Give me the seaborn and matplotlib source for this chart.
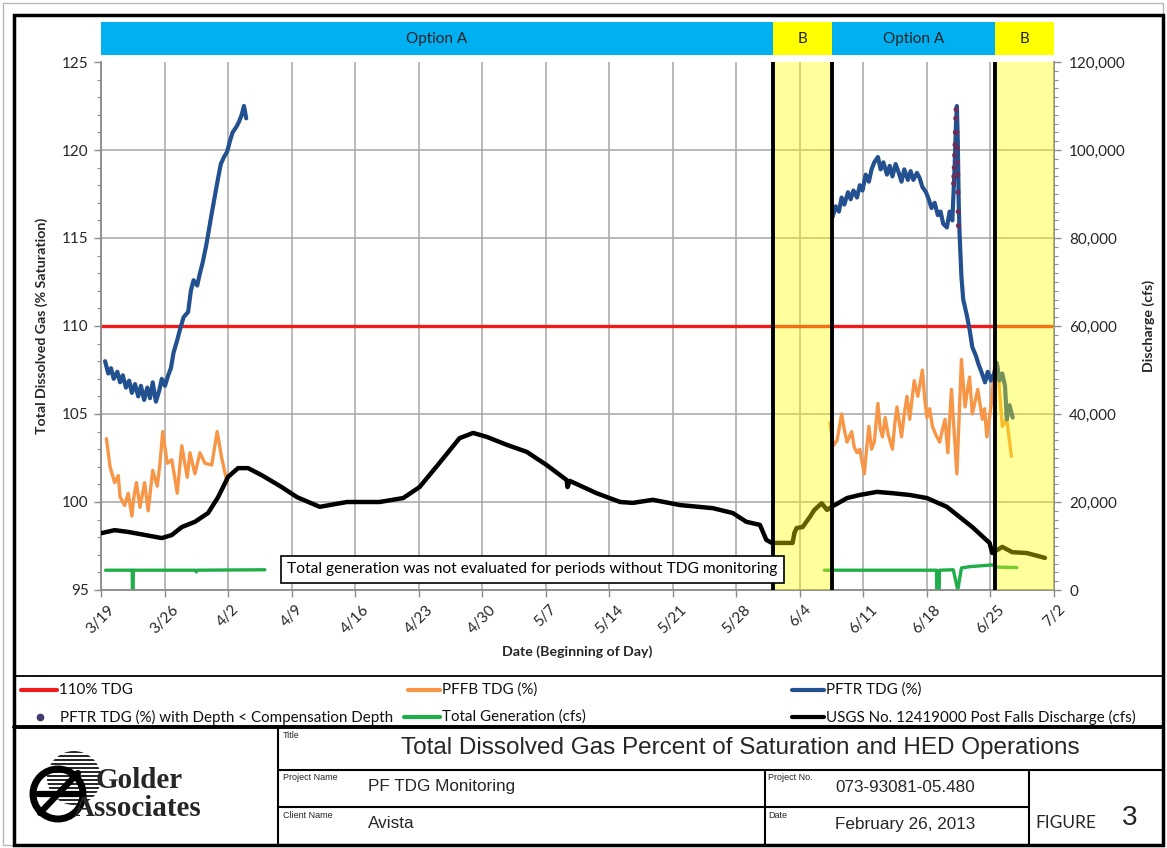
import numpy as np
import pandas as pd
import matplotlib
matplotlib.use('Agg')
import matplotlib.pyplot as plt
import seaborn as sns
from matplotlib.patches import Rectangle, Circle
from matplotlib.lines import Line2D
from matplotlib.ticker import MultipleLocator, FuncFormatter
import matplotlib.transforms as mtransforms

# ---------------- data (x = days since 3/19) ----------------
TICK_DAYS = [0, 7, 14, 21, 28, 35, 42, 49, 56, 63, 70, 77, 84, 91, 98, 105]
TICK_LABELS = ['3/19', '3/26', '4/2', '4/9', '4/16', '4/23', '4/30', '5/7',
               '5/14', '5/21', '5/28', '6/4', '6/11', '6/18', '6/25', '7/2']

TDG_LIMIT = 110

pftr1_day = [0.45, 0.8, 1.1, 1.4, 1.8, 2.1, 2.4, 2.75, 3.1, 3.4, 3.75, 4.1, 4.4, 4.75,
             5.1, 5.4, 5.7, 6.05, 6.4, 6.7, 7.05, 7.4, 7.7, 8.0, 8.4, 8.7, 9.1, 9.6,
             9.9, 10.2, 10.6, 10.9, 11.2, 11.6, 11.9, 12.2, 12.55, 12.9, 13.2, 13.55,
             13.9, 14.2, 14.5, 14.9, 15.2, 15.5, 15.75, 16.0]
pftr1_val = [108.0, 107.3, 107.6, 107.0, 107.4, 106.8, 107.2, 106.5, 106.9, 106.2, 106.7,
             106.0, 106.6, 105.8, 106.5, 105.9, 106.8, 105.7, 106.3, 107.0, 106.6, 107.2,
             107.6, 108.5, 109.2, 109.8, 110.5, 110.8, 112.0, 112.6, 112.3, 113.0, 113.6,
             114.6, 115.5, 116.4, 117.4, 118.4, 119.2, 119.6, 119.9, 120.5, 121.0, 121.3,
             121.6, 122.0, 122.5, 121.8]

pftr2_day = [80.6, 80.95, 81.3, 81.6, 81.9, 82.3, 82.6, 82.9, 83.3, 83.6, 83.9, 84.25,
             84.6, 84.9, 85.2, 85.6, 85.9, 86.2, 86.6, 86.9, 87.2, 87.55, 87.9, 88.2,
             88.5, 88.9, 89.2, 89.5, 89.9, 90.2, 90.5, 90.9, 91.2, 91.5, 91.85, 92.2,
             92.5, 92.8, 93.2, 93.5, 93.8, 94.05, 94.2, 94.3, 94.4, 94.5, 94.6, 94.8,
             95.0, 95.4, 95.7, 96.0, 96.4, 96.7, 97.0, 97.4, 97.7, 98.05, 98.4, 98.7,
             99.0, 99.3, 99.6, 99.8, 100.1, 100.45]
pftr2_val = [116.2, 116.8, 116.5, 117.3, 116.9, 117.6, 117.2, 117.7, 117.3, 118.0, 117.7,
             118.6, 118.2, 118.9, 119.3, 119.6, 118.9, 119.3, 118.6, 119.1, 118.5, 119.2,
             118.7, 118.2, 118.9, 118.3, 118.8, 118.3, 118.7, 118.4, 117.9, 117.6, 117.2,
             116.7, 117.0, 116.3, 116.5, 115.8, 115.6, 116.5, 116.0, 119.0, 121.5, 122.5,
             120.5, 117.0, 115.2, 112.8, 111.5, 110.6, 109.8, 108.8, 108.3, 107.8, 107.4,
             106.8, 107.4, 106.9, 107.3, 107.9, 106.9, 107.3, 106.6, 104.7, 105.5, 104.8]

shallow_day = [93.95, 93.98, 94.02, 94.06, 94.1, 94.14, 94.18, 94.22,
               94.3, 94.33, 94.36, 94.39, 94.42, 94.45, 94.48]
shallow_val = [118.1, 118.5, 119.0, 119.7, 120.3, 121.0, 121.8, 122.3,
               121.0, 120.1, 119.3, 118.6, 117.6, 116.5, 115.7]

pffb1_day = [0.6, 1.0, 1.5, 1.9, 2.1, 2.6, 3.0, 3.4, 3.6, 3.9, 4.3, 4.8, 5.2, 5.7, 6.2,
             6.5, 6.8, 7.3, 7.8, 8.4, 8.9, 9.5, 9.8, 10.35, 10.9, 11.45, 12.2, 12.8,
             13.3, 13.9]
pffb1_val = [103.6, 102.0, 101.1, 101.5, 100.3, 99.8, 100.5, 99.2, 100.2, 101.1, 99.7,
             101.1, 99.5, 101.8, 100.9, 102.2, 104.0, 102.2, 102.4, 100.5, 103.2, 101.4,
             102.8, 101.6, 102.8, 102.2, 102.1, 104.0, 102.5, 101.1]

pffb2_day = [80.3, 80.7, 81.1, 81.6, 81.9, 82.2, 82.7, 83.0, 83.3, 83.6, 84.1, 84.35,
             84.6, 84.9, 85.2, 85.6, 85.85, 86.1, 86.4, 86.7, 87.2, 87.45, 87.7, 88.2,
             88.5, 88.8, 89.1, 89.35, 89.6, 90.0, 90.5, 90.75, 91.0, 91.3, 91.6, 92.0,
             92.4, 92.7, 93.0, 93.3, 93.7, 94.0, 94.3, 94.8, 95.2, 95.45, 95.7, 96.0,
             96.3, 96.6, 97.1, 97.35, 97.6, 98.1, 98.5, 98.8, 99.3, 99.8, 100.3]
pffb2_val = [104.5, 103.2, 103.5, 105.0, 104.1, 103.4, 104.0, 103.1, 102.8, 103.0, 101.6,
             103.0, 104.3, 103.0, 103.4, 105.6, 104.2, 103.7, 104.8, 103.9, 103.0, 104.4,
             105.4, 103.7, 105.0, 106.0, 104.7, 105.8, 106.9, 106.0, 107.5, 105.9, 104.8,
             105.3, 104.3, 103.8, 103.4, 104.1, 104.7, 102.8, 106.4, 104.0, 101.6, 108.1,
             105.4, 106.3, 107.1, 105.0, 105.7, 106.4, 104.7, 105.3, 103.7, 105.6, 107.9,
             107.7, 104.3, 104.7, 102.6]

flow_day = [0.0, 1.5, 3.0, 4.85, 6.7, 7.8, 8.9, 10.35, 11.8, 12.9, 14.0, 15.1, 16.2,
            17.7, 19.9, 21.6, 24.1, 27.1, 30.7, 33.3, 35.1, 37.3, 39.5, 41.0, 42.5,
            44.7, 46.9, 49.1, 51.3, 51.4, 51.65, 54.6, 57.2, 58.6, 60.8, 63.8, 67.4,
            69.6, 71.1, 72.6, 73.3, 73.9, 76.2, 76.4, 76.65, 77.3, 78.1, 78.6, 79.4,
            80.0, 80.5, 82.2, 83.6, 85.5, 87.2, 89.1, 91.0, 93.2, 94.6, 96.0, 97.9,
            98.2, 99.3, 100.4, 102.0, 104.0]
flow_cfs = [12900, 13600, 13200, 12500, 11800, 12500, 14300, 15500, 17500, 21100, 25700,
            27700, 27700, 26100, 23400, 21100, 18900, 20000, 20000, 20900, 23400, 28900,
            34500, 35700, 34800, 33000, 31400, 28400, 25000, 23400, 24800, 22000, 20000,
            19800, 20500, 19300, 18600, 17500, 15500, 14800, 11400, 10700, 10700, 13000,
            14100, 14300, 16600, 18200, 19700, 18200, 18900, 20900, 21600, 22300, 22000,
            21600, 20900, 18900, 16600, 14300, 10700, 8400, 9800, 8600, 8400, 7300]

gen1_day = [0.5, 3.44, 3.46, 3.54, 3.56, 10.4, 10.5, 10.6, 18.05]
gen1_cfs = [4500, 4500, 0, 0, 4500, 4500, 4100, 4500, 4600]

gen2_day = [79.7, 92.05, 92.08, 92.35, 92.38, 93.9, 94.4, 94.8, 95.7, 98.2, 98.8, 100.9]
gen2_cfs = [4500, 4500, 0, 0, 4500, 4600, 0, 5000, 5300, 5700, 5200, 5100]

# operation periods (start day, end day, label)
period_start = [0, 74.0, 80.5, 98.5]
period_end = [74.0, 80.5, 98.5, 105]
period_label = ['Option A', 'B', 'Option A', 'B']
change_days = [74.0, 80.5, 98.5]

# ---------------- styling ----------------
RED = '#f01a1a'
ORANGE = '#f79646'
BLUE = '#23508f'
GREEN = '#1fae4a'
PURPLE = '#6b2d5c'
BANNER_BLUE = '#00b0f0'
BANNER_YEL = '#ffff00'

sns.set_theme(style='white')
plt.rcParams['font.family'] = ['Lato', 'DejaVu Sans']

W, H = 1167, 848
fig = plt.figure(figsize=(W / 100, H / 100), dpi=100)
deco = fig.add_axes([0, 0, 1, 1], zorder=0)
deco.set_xlim(0, W)
deco.set_ylim(H, 0)
deco.axis('off')

ax = fig.add_axes([101 / W, 1 - 590 / H, (1054 - 101) / W, 528 / H], zorder=1)
ax2 = ax.twinx()
ax2.set_zorder(2)
ax2.patch.set_visible(False)

# grid
for v in range(100, 125, 5):
    ax.axhline(v, color='#a6a6a6', lw=1.1, zorder=0)
for d in TICK_DAYS[1:-1]:
    ax.axvline(d, color='#a6a6a6', lw=1.1, zorder=0)

# left-axis series
ax.axhline(TDG_LIMIT, color=RED, lw=2.4, zorder=2)
for dd, vv in [(pffb1_day, pffb1_val), (pffb2_day, pffb2_val)]:
    sns.lineplot(x=dd, y=vv, ax=ax, color=ORANGE, lw=2.4, sort=False, estimator=None, zorder=3)
for dd, vv in [(pftr1_day, pftr1_val), (pftr2_day, pftr2_val)]:
    sns.lineplot(x=dd, y=vv, ax=ax, color=BLUE, lw=3.0, sort=False, estimator=None, zorder=4)
sns.scatterplot(x=shallow_day, y=shallow_val, ax=ax, color=PURPLE, s=14,
                edgecolor='none', zorder=5)

# right-axis series
sns.lineplot(x=flow_day, y=flow_cfs, ax=ax2, color='black', lw=3.2, sort=False, estimator=None, zorder=3)
for dd, vv in [(gen1_day, gen1_cfs), (gen2_day, gen2_cfs)]:
    sns.lineplot(x=dd, y=vv, ax=ax2, color=GREEN, lw=2.4, sort=False, estimator=None, zorder=2)

# B periods overlay
for s, e, lab in zip(period_start, period_end, period_label):
    if lab == 'B':
        ax2.axvspan(s, e, color=BANNER_YEL, alpha=0.38, lw=0, zorder=10)
for d in change_days:
    ax2.axvline(d, color='black', lw=2.8, zorder=11)

# banner
trans = mtransforms.blended_transform_factory(ax.transData, ax.transAxes)
for s, e, lab in zip(period_start, period_end, period_label):
    col = BANNER_YEL if lab == 'B' else BANNER_BLUE
    ax2.add_patch(Rectangle((s, 1.0133), e - s, 0.0625, transform=trans, clip_on=False,
                            facecolor=col, edgecolor='none', zorder=12))
    ax2.text((s + e) / 2, 1.0445, lab, transform=trans, ha='center', va='center',
             fontsize=11, color='#222222', zorder=13)

# annotation box
ax2.text(47.5, 4700, 'Total generation was not evaluated for periods without TDG monitoring',
         ha='center', va='center', fontsize=11.2, color='black', zorder=14,
         bbox=dict(boxstyle='square,pad=0.4', facecolor='white', edgecolor='black', lw=1.2))

# axes setup
ax.set_xlim(0, 105)
ax.set_ylim(95, 125)
ax2.set_ylim(0, 120000)
ax.set_xticks(TICK_DAYS)
ax.set_xticklabels(TICK_LABELS, rotation=45, ha='center', fontsize=11)
ax.set_yticks(range(95, 126, 5))
ax.yaxis.set_minor_locator(MultipleLocator(1))
ax2.set_yticks(range(0, 120001, 20000))
ax2.yaxis.set_minor_locator(MultipleLocator(2000))
ax2.yaxis.set_major_formatter(FuncFormatter(lambda v, p: f'{int(v):,}'))
for a in (ax, ax2):
    a.tick_params(axis='both', which='major', labelsize=11, length=5, width=1,
                  color='#8c8c8c', direction='out', pad=4)
    a.tick_params(axis='y', which='minor', length=3, width=0.8, color='#8c8c8c', direction='out')
    for sp in a.spines.values():
        sp.set_color('#8c8c8c')
        sp.set_linewidth(1.1)
    a.spines['top'].set_visible(False)
    a.set_xlabel('')
    a.set_ylabel('')
ax.tick_params(axis='y', which='both', left=True, right=False)
ax2.tick_params(axis='y', which='both', right=True, left=False, pad=6)
ax.tick_params(axis='x', which='major', bottom=True)
ax.grid(False)
ax2.grid(False)

ax.set_ylabel('Total Dissolved Gas (% Saturation)', fontsize=10.2, fontweight='bold', labelpad=10)
ax2.set_ylabel('Discharge (cfs)', fontsize=10.2, fontweight='bold', labelpad=12)
ax.set_xlabel('Date (Beginning of Day)', fontsize=10.2, fontweight='bold', labelpad=7)

# ---------------- frame, legend, title block ----------------
deco.add_patch(Rectangle((3, 3), 1160, 842, fill=False, ec='#b8b8b8', lw=1))
deco.add_patch(Rectangle((14, 15), 1149, 830, fill=False, ec='black', lw=2.5))
deco.plot([14, 1163], [676, 676], color='black', lw=1.3)
deco.plot([14, 1163], [727, 727], color='black', lw=2.8)
deco.plot([278, 278], [727, 845], color='black', lw=1.5)
deco.plot([278, 1163], [770, 770], color='black', lw=1.5)
deco.plot([278, 1029], [807, 807], color='black', lw=1.5)
deco.plot([765, 765], [770, 845], color='black', lw=1.5)
deco.plot([1029, 1029], [770, 845], color='black', lw=1.5)

legend_items = [
    ('line', RED, 21, 57, 690, '110% TDG'),
    ('line', ORANGE, 408, 440, 690, 'PFFB TDG (%)'),
    ('line', BLUE, 792, 824, 690, 'PFTR TDG (%)'),
    ('dot', '#3f3d6e', 40, 40, 717, 'PFTR TDG (%) with Depth < Compensation Depth'),
    ('line', GREEN, 404, 440, 717, 'Total Generation (cfs)'),
    ('line', 'black', 792, 824, 717, 'USGS No. 12419000 Post Falls Discharge (cfs)'),
]
for kind, col, x0, x1, yy, lab in legend_items:
    if kind == 'line':
        deco.plot([x0, x1], [yy, yy], color=col, lw=3)
        tx = x1 + 2
    else:
        deco.plot([x0], [yy], 'o', color=col, ms=4.5)
        tx = x0 + 20
    deco.text(tx, yy, lab, ha='left', va='center', fontsize=10.9, color='#111111')

tb_font = ['Liberation Sans', 'DejaVu Sans']
deco.text(283, 735, 'Title', fontsize=6.5, family=tb_font, va='center')
deco.text(740, 748, 'Total Dissolved Gas Percent of Saturation and HED Operations',
          fontsize=17.5, family=tb_font, ha='center', va='center')
deco.text(283, 778, 'Project Name', fontsize=6.5, family=tb_font, va='center')
deco.text(368, 787, 'PF TDG Monitoring', fontsize=12.3, family=tb_font, va='center')
deco.text(768, 778, 'Project No.', fontsize=6.5, family=tb_font, va='center')
deco.text(835, 787, '073-93081-05.480', fontsize=12.3, family=tb_font, va='center')
deco.text(283, 815, 'Client Name', fontsize=6.5, family=tb_font, va='center')
deco.text(368, 824, 'Avista', fontsize=12.3, family=tb_font, va='center')
deco.text(768, 815, 'Date', fontsize=6.5, family=tb_font, va='center')
deco.text(835, 824, 'February 26, 2013', fontsize=12.3, family=tb_font, va='center')
deco.text(1035, 823, 'FIGURE', fontsize=12.5, va='center')
deco.text(1122, 818, '3', fontsize=20, family=tb_font, va='center')

# logo: striped globe behind a ringed symbol
globe = Circle((74, 778), 27, transform=deco.transData)
for yy in range(752, 806, 4):
    ln, = deco.plot([40, 110], [yy, yy], color='black', lw=1.2)
    ln.set_clip_path(globe)
deco.add_patch(Circle((58, 794), 25, facecolor='white', ec='black', lw=5))
deco.plot([40, 78], [813, 773], color='black', lw=4.5)
deco.plot([38, 78], [794, 794], color='black', lw=4.5)
logo_font = ['Liberation Serif', 'DejaVu Serif']
deco.text(96, 781, 'Golder', fontsize=21, fontweight='bold', family=logo_font, va='center')
deco.text(74, 808, 'Associates', fontsize=21, fontweight='bold', family=logo_font, va='center')

fig.savefig('out.png', dpi=100)
